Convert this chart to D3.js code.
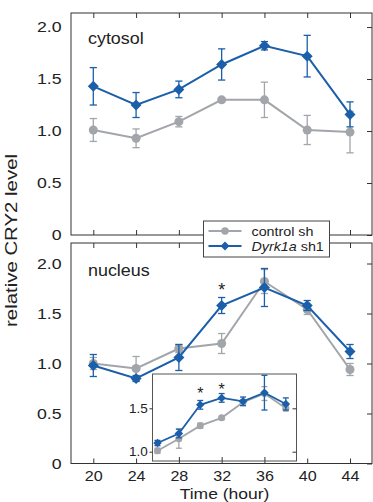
<!DOCTYPE html>
<html>
<head>
<meta charset="utf-8">
<script src="https://cdn.jsdelivr.net/npm/d3@7"></script>
<style>
  html, body { margin: 0; padding: 0; background: #fff; }
  svg { display: block; font-family: "Liberation Sans", Arial, sans-serif; }
  .frame { fill: none; stroke: #333; stroke-width: 1; }
  .axis path { display: none; }
  .axis line { stroke: #333; }
  .axis text { fill: #222; }
</style>
</head>
<body>
<svg id="chart" width="373" height="502"></svg>
<script>
// data
const hours = [20, 24, 28, 32, 36, 40, 44];

const cytoControl = [1.01, 0.93, 1.09, 1.30, 1.30, 1.01, 0.99];
const cytoControlErr = [0.11, 0.09, 0.05, 0.02, 0.17, 0.14, 0.20];
const cytoDyrk = [1.43, 1.25, 1.40, 1.64, 1.82, 1.72, 1.16];
const cytoDyrkErr = [0.18, 0.12, 0.08, 0.15, 0.04, 0.20, 0.12];

const nucControl = [1.00, 0.95, 1.15, 1.20, 1.82, 1.54, 0.94];
const nucControlErr = [0.06, 0.12, 0.04, 0.10, 0.12, 0.05, 0.06];
const nucDyrk = [0.98, 0.85, 1.06, 1.58, 1.76, 1.58, 1.12];
const nucDyrkErr = [0.11, 0.03, 0.13, 0.08, 0.19, 0.05, 0.07];

const insetHours = [26, 28, 30, 32, 34, 36, 38];
const insetControl = [1.01, 1.15, 1.30, 1.39, 1.57, 1.67, 1.50];
const insetControlErr = [0.03, 0.11, 0.03, 0.02, 0.03, 0.08, 0.03];
const insetDyrk = [1.10, 1.21, 1.54, 1.62, 1.58, 1.68, 1.55];
const insetDyrkErr = [0.03, 0.05, 0.05, 0.05, 0.05, 0.20, 0.07];

const mainTicks = [0, 0.5, 1.0, 1.5, 2.0];
const insetTicks = [1.0, 1.5];
const insetXTicks = [28, 32, 36];
const nucStars = [32];
const insetStars = [30, 32];

const blue = '#1b5ea9';
const gray = '#a2a5a9';

// the figure's lettering is a bit wider than the font
const stretch = 1.18;

const svg = d3.select('#chart');

const margins = { left: 71, right: 372 };

const x = d3.scaleLinear()
  .domain([20, 44])
  .range([93.3, 350]);

const tickFmt = (d) => d === 0 ? '0' : d3.format('.1f')(d);

// rotated square, sized by its diagonal
function diamond(diag) {
  const h = diag / 2;
  return `M0,${-h}L${h},0L0,${h}L${-h},0Z`;
}
function circle(diam) {
  return d3.symbol().type(d3.symbolCircle).size(Math.PI * diam * diam / 4)();
}

function drawSeries(g, xs, ys, errs, y, color, marker, cap, width) {
  const pts = xs.map((h, i) => ({ x: h, y: ys[i], e: errs[i] }));

  g.append('path')
    .datum(pts)
    .attr('fill', 'none')
    .attr('stroke', color)
    .attr('stroke-width', width)
    .attr('d', d3.line().x((d) => x(d.x)).y((d) => y(d.y)));

  const eb = g.selectAll(null)
    .data(pts)
    .enter()
    .append('g')
    .attr('stroke', color)
    .attr('stroke-width', 1.3);

  eb.append('line')
    .attr('x1', (d) => x(d.x)).attr('x2', (d) => x(d.x))
    .attr('y1', (d) => y(d.y - d.e)).attr('y2', (d) => y(d.y + d.e));
  eb.append('line')
    .attr('x1', (d) => x(d.x) - cap).attr('x2', (d) => x(d.x) + cap)
    .attr('y1', (d) => y(d.y + d.e)).attr('y2', (d) => y(d.y + d.e));
  eb.append('line')
    .attr('x1', (d) => x(d.x) - cap).attr('x2', (d) => x(d.x) + cap)
    .attr('y1', (d) => y(d.y - d.e)).attr('y2', (d) => y(d.y - d.e));

  g.selectAll(null)
    .data(pts)
    .enter()
    .append('path')
    .attr('fill', color)
    .attr('transform', (d) => `translate(${x(d.x)},${y(d.y)})`)
    .attr('d', marker);
}

function drawPanel(panelTop, panelBottom, yMax, label, labelY) {
  const y = d3.scaleLinear()
    .domain([0, yMax])
    .range([panelBottom, panelTop]);

  const g = svg.append('g');

  g.append('rect')
    .attr('class', 'frame')
    .attr('x', margins.left)
    .attr('y', panelTop)
    .attr('width', margins.right - margins.left)
    .attr('height', panelBottom - panelTop);

  // tick labels on the left
  g.append('g')
    .attr('class', 'axis')
    .attr('transform', `translate(${margins.left}, 0)`)
    .style('font-size', '15px')
    .call(d3.axisLeft(y).tickValues(mainTicks).tickSize(0).tickPadding(8).tickFormat(tickFmt))
    .selectAll('text')
    .attr('transform', `scale(${stretch},1)`);

  // inward ticks on the right
  g.append('g')
    .attr('class', 'axis')
    .attr('transform', `translate(${margins.right}, 0)`)
    .call(d3.axisRight(y).tickValues(mainTicks).tickSize(-5).tickFormat(''));

  // inward ticks top and bottom
  g.append('g')
    .attr('class', 'axis')
    .attr('transform', `translate(0, ${panelTop})`)
    .call(d3.axisTop(x).tickValues(hours).tickSize(-5).tickFormat(''));
  g.append('g')
    .attr('class', 'axis')
    .attr('transform', `translate(0, ${panelBottom})`)
    .call(d3.axisBottom(x).tickValues(hours).tickSize(-5).tickFormat(''));

  g.append('text')
    .attr('transform', `translate(88, ${labelY}) scale(1.12,1)`)
    .attr('fill', '#222')
    .style('font-size', '16px')
    .text(label);

  return { g, y };
}

// top panel: cytosol
const cytoPanel = drawPanel(13, 235, 2.135, 'cytosol', 44);
drawSeries(cytoPanel.g, hours, cytoControl, cytoControlErr, cytoPanel.y, gray, circle(9), 3.6, 2);
drawSeries(cytoPanel.g, hours, cytoDyrk, cytoDyrkErr, cytoPanel.y, blue, diamond(11), 3.6, 2);

// bottom panel: nucleus
const nucPanel = drawPanel(243, 463.5, 2.205, 'nucleus', 276);
drawSeries(nucPanel.g, hours, nucControl, nucControlErr, nucPanel.y, gray, circle(9), 3.6, 2);
drawSeries(nucPanel.g, hours, nucDyrk, nucDyrkErr, nucPanel.y, blue, diamond(11), 3.6, 2);

nucPanel.g.selectAll(null)
  .data(nucStars)
  .enter()
  .append('text')
  .attr('x', (d) => x(d))
  .attr('y', 295.5)
  .attr('text-anchor', 'middle')
  .style('font-size', '18px')
  .attr('fill', '#222')
  .text('*');

// x axis labels
svg.append('g')
  .attr('class', 'axis')
  .attr('transform', 'translate(0, 463.5)')
  .style('font-size', '14px')
  .call(d3.axisBottom(x).tickValues(hours).tickSize(0).tickPadding(8))
  .selectAll('text')
  .attr('transform', 'scale(1.15,1)');

svg.append('text')
  .attr('transform', 'translate(224.5, 498.5) scale(1.13,1)')
  .attr('text-anchor', 'middle')
  .style('font-size', '15.5px')
  .attr('fill', '#222')
  .text('Time (hour)');

svg.append('text')
  .attr('transform', `translate(16.5, 240.5) rotate(-90) scale(1.2,1)`)
  .attr('text-anchor', 'middle')
  .style('font-size', '17px')
  .attr('fill', '#222')
  .text('relative CRY2 level');

// inset
const inset = { left: 152.5, right: 296.5, top: 374, bottom: 461 };
const yIn = d3.scaleLinear()
  .domain([1.0, 1.5])
  .range([451.7, 408.3]);

const ig = svg.append('g');
ig.append('rect')
  .attr('x', inset.left)
  .attr('y', inset.top)
  .attr('width', inset.right - inset.left)
  .attr('height', inset.bottom - inset.top)
  .attr('fill', '#fff')
  .attr('stroke', '#555')
  .attr('stroke-width', 1);

ig.append('g')
  .attr('class', 'axis')
  .attr('transform', `translate(${inset.left}, 0)`)
  .style('font-size', '12.5px')
  .call(d3.axisLeft(yIn).tickValues(insetTicks).tickSize(3).tickPadding(1.5).tickFormat(d3.format('.1f')))
  .selectAll('text')
  .attr('transform', 'scale(1.08,1)');
ig.append('g')
  .attr('class', 'axis')
  .attr('transform', `translate(${inset.right}, 0)`)
  .call(d3.axisRight(yIn).tickValues(insetTicks).tickSize(-4).tickFormat(''));
ig.append('g')
  .attr('class', 'axis')
  .attr('transform', `translate(0, ${inset.bottom})`)
  .call(d3.axisBottom(x).tickValues(insetXTicks).tickSize(-4).tickFormat(''));

drawSeries(ig, insetHours, insetControl, insetControlErr, yIn, gray, circle(7), 3, 1.8);
drawSeries(ig, insetHours, insetDyrk, insetDyrkErr, yIn, blue, diamond(8.5), 3, 1.8);

ig.selectAll(null)
  .data(insetStars)
  .enter()
  .append('text')
  .attr('x', (d) => x(d))
  .attr('y', (d, i) => i === 0 ? 398.5 : 395)
  .attr('text-anchor', 'middle')
  .style('font-size', '16px')
  .attr('fill', '#222')
  .text('*');

// legend
const lg = svg.append('g').attr('transform', 'translate(203.5, 221)');
lg.append('rect')
  .attr('width', 126)
  .attr('height', 36)
  .attr('fill', '#fff')
  .attr('stroke', '#444')
  .attr('stroke-width', 1);

const legendItems = [
  { color: gray, marker: circle(7.5), label: 'control sh', italic: '' },
  { color: blue, marker: diamond(9), label: ' sh1', italic: 'Dyrk1a' }
];

const li = lg.selectAll(null)
  .data(legendItems)
  .enter()
  .append('g')
  .attr('transform', (d, i) => `translate(0, ${10 + i * 15})`);

li.append('line')
  .attr('x1', 5).attr('x2', 38)
  .attr('stroke', (d) => d.color)
  .attr('stroke-width', 2);
li.append('path')
  .attr('transform', 'translate(21.5, 0)')
  .attr('fill', (d) => d.color)
  .attr('d', (d) => d.marker);

const lt = li.append('text')
  .attr('transform', 'translate(48, 4.5) scale(1.1,1)')
  .style('font-size', '13px')
  .attr('fill', '#222');
lt.append('tspan')
  .style('font-style', 'italic')
  .text((d) => d.italic);
lt.append('tspan')
  .text((d) => d.label);
</script>
</body>
</html>
